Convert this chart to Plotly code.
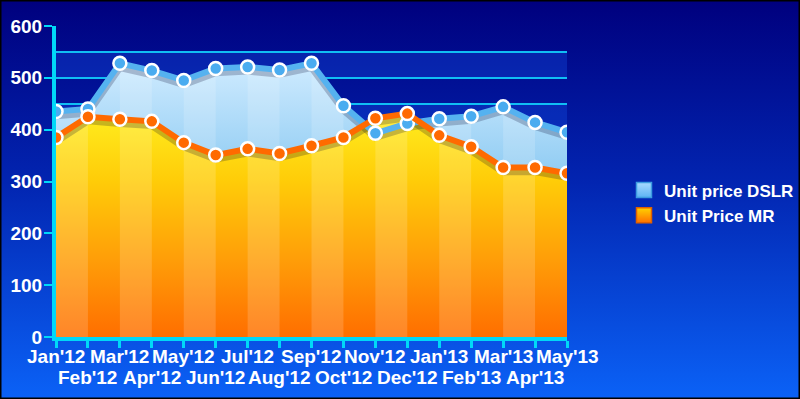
import base64
import plotly.graph_objects as go

months = ["Jan'12", "Feb'12", "Mar'12", "Apr'12", "May'12", "Jun'12", "Jul'12", "Aug'12",
          "Sep'12", "Oct'12", "Nov'12", "Dec'12", "Jan'13", "Feb'13", "Mar'13", "Apr'13", "May'13"]
dslr = [435, 440, 528, 514, 495, 518, 521, 515, 528, 446, 393, 412, 421, 426, 444, 414, 395]
mr = [385, 425, 420, 416, 375, 351, 363, 354, 369, 385, 422, 431, 389, 367, 327, 327, 316]
y_ticks = [0, 100, 200, 300, 400, 500, 600]
series_names = ["Unit price DSLR", "Unit Price MR"]

W, H = 800, 399
ML, MR_, MT, MB = 56, 233, 26, 62
PW, PH = W - ML - MR_, H - MT - MB

FONT = "Liberation Sans, Arial, sans-serif"
CYAN = "#00D8F8"
GRID = "#10BEF4"
BLUE_LINE = "#55B2F0"
ORANGE_LINE = "#FF6A00"

fig = go.Figure()

# area fills
fig.add_trace(go.Scatter(
    x=months, y=dslr, mode="lines", line=dict(width=0, color=BLUE_LINE),
    fill="tozeroy",
    fillgradient=dict(type="vertical", start=300, stop=530,
                      colorscale=[[0, "#8CCAF2"], [1, "#CFEBFF"]]),
    showlegend=False, hoverinfo="skip"))
fig.add_trace(go.Scatter(
    x=months, y=mr, mode="lines", line=dict(width=0, color=ORANGE_LINE),
    fill="tozeroy",
    fillgradient=dict(type="vertical", start=0, stop=430,
                      colorscale=[[0, "#FF6E00"], [0.35, "#FF9E08"], [0.7, "#FFCC08"], [1, "#FFEC1E"]]),
    showlegend=False, hoverinfo="skip"))

# lighter vertical stripes on alternate month intervals
for i in range(0, len(months) - 1, 2):
    t0 = max(dslr[i], mr[i])
    t1 = max(dslr[i + 1], mr[i + 1])
    fig.add_trace(go.Scatter(
        x=[months[i], months[i], months[i + 1], months[i + 1]],
        y=[0, t0, t1, 0], mode="lines", line=dict(width=0),
        fill="toself", fillcolor="rgba(255,255,255,0.16)",
        showlegend=False, hoverinfo="skip"))

# soft shadows under the lines
for vals in (dslr, mr):
    fig.add_trace(go.Scatter(
        x=months, y=[v - 8 for v in vals], mode="lines",
        line=dict(width=7, color="rgba(0,0,40,0.22)"),
        showlegend=False, hoverinfo="skip"))

# lines with markers
fig.add_trace(go.Scatter(
    x=months, y=dslr, mode="lines+markers", name=series_names[0],
    line=dict(width=6, color=BLUE_LINE),
    marker=dict(size=13, color="#4AACF0", line=dict(width=2.5, color="white")),
    showlegend=False))
fig.add_trace(go.Scatter(
    x=months, y=mr, mode="lines+markers", name=series_names[1],
    line=dict(width=6, color=ORANGE_LINE),
    marker=dict(size=13, color="#FF6A00", line=dict(width=2.5, color="white")),
    showlegend=False))

# legend entries
fig.add_trace(go.Scatter(
    x=[None], y=[None], mode="markers", name=series_names[0],
    marker=dict(symbol="square", size=15, color="#A8DAFF",
                gradient=dict(type="vertical", color="#5CB4F4"),
                line=dict(width=1.5, color="#3C9CE0"))))
fig.add_trace(go.Scatter(
    x=[None], y=[None], mode="markers", name=series_names[1],
    marker=dict(symbol="square", size=15, color="#FFD400",
                gradient=dict(type="vertical", color="#FF7000"),
                line=dict(width=1.5, color="#E06000"))))

# page background gradient (as an inline SVG image)
svg = (
    f'<svg xmlns="http://www.w3.org/2000/svg" width="{W}" height="{H}" viewBox="0 0 {W} {H}" '
    'preserveAspectRatio="none"><defs><linearGradient id="g" x1="0" y1="0" x2="0" y2="1">'
    '<stop offset="0" stop-color="#00007E"/><stop offset="0.45" stop-color="#0224B0"/>'
    '<stop offset="1" stop-color="#0B62F7"/></linearGradient></defs>'
    f'<rect x="0" y="0" width="{W}" height="{H}" fill="url(#g)"/>'
    f'<rect x="0.75" y="0.75" width="{W-1.5}" height="{H-1.5}" fill="none" stroke="#000" stroke-width="1.5"/>'
    '</svg>')
src = "data:image/svg+xml;base64," + base64.b64encode(svg.encode()).decode()

shapes = []
for lo in range(0, 600, 100):
    shapes.append(dict(type="rect", xref="x domain", yref="y", x0=0, x1=1,
                       y0=lo, y1=lo + 50, line=dict(width=0),
                       fillcolor="rgba(20,80,230,0.35)", layer="below"))

annotations = []
for i, m in enumerate(months):
    annotations.append(dict(
        x=m, xref="x", y=0, yref="paper", yanchor="top", xanchor="center",
        yshift=-7 if i % 2 == 0 else -28, text=m, showarrow=False,
        font=dict(family=FONT, size=19, color="white", weight="bold")))

fig.update_layout(
    width=W, height=H,
    margin=dict(l=ML, r=MR_, t=MT, b=MB, autoexpand=False),
    paper_bgcolor="#0224B0", plot_bgcolor="rgba(0,0,0,0)",
    images=[dict(source=src, xref="paper", yref="paper",
                 x=-ML / PW, y=1 + MT / PH, sizex=W / PW, sizey=H / PH,
                 xanchor="left", yanchor="top", sizing="stretch", layer="below")],
    shapes=shapes,
    annotations=annotations,
    showlegend=True,
    legend=dict(x=624 / W, xref="container", xanchor="left",
                y=1 - 203 / H, yref="container", yanchor="middle",
                bgcolor="rgba(0,0,0,0)", borderwidth=0,
                font=dict(family=FONT, size=17, color="white", weight="bold")),
    xaxis=dict(type="category", range=[0, len(months) - 1], showgrid=False,
               showline=True, linecolor=CYAN, linewidth=4,
               ticks="outside", ticklen=7, tickwidth=2.5, tickcolor=CYAN,
               showticklabels=False, zeroline=False, fixedrange=True),
    yaxis=dict(range=[0, 600], tickvals=y_ticks, showgrid=True, gridcolor=GRID, gridwidth=1.5,
               minor=dict(dtick=50, showgrid=True, gridcolor=GRID, gridwidth=1.5),
               showline=True, linecolor=CYAN, linewidth=4,
               ticks="outside", ticklen=8, tickwidth=2, tickcolor=CYAN,
               ticklabelstandoff=-2,
               tickfont=dict(family=FONT, size=19, color="white", weight="bold"),
               zeroline=False, fixedrange=True),
)

fig.write_html("out.html")
